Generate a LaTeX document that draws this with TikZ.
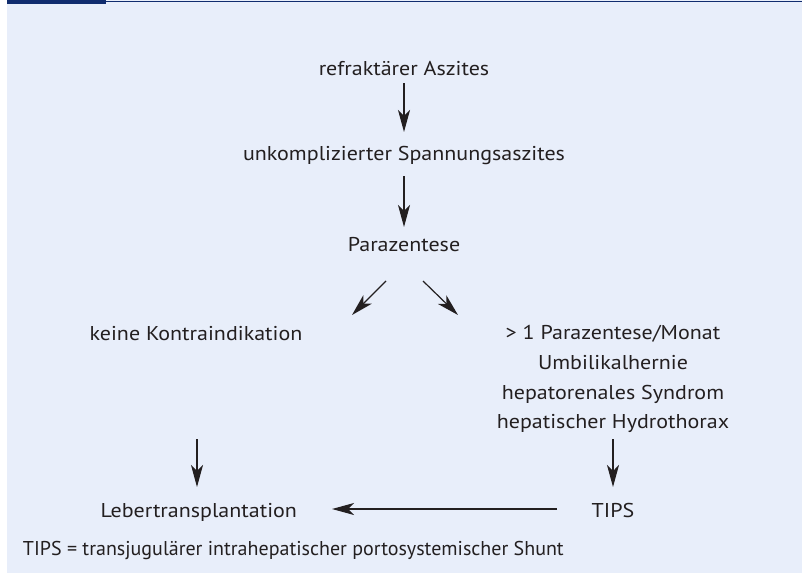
\documentclass[tikz,border=0pt]{standalone}
\usepackage{fontspec}
\setmainfont{PT Sans}
\newfontfamily\widesans[FakeStretch=1.1]{PT Sans}
\usetikzlibrary{arrows.meta,calc}
\definecolor{bgblue}{RGB}{232,238,250}
\definecolor{navy}{RGB}{16,44,110}
\definecolor{txt}{RGB}{35,31,32}
\tikzset{
  lbl/.style={inner sep=0pt, outer sep=0pt, text=txt, font=\widesans\fontsize{20}{24}\selectfont},
  foot/.style={inner sep=0pt, outer sep=0pt, text=txt, font=\fontsize{20}{24}\selectfont},
  arr/.style={draw=txt, line width=1.2pt, -{Stealth[length=22pt,width=12pt,inset=6pt]}}
}
\begin{document}
\begin{tikzpicture}[x=1pt,y=-1pt]
\useasboundingbox (0,0) rectangle (803,573);
\fill[bgblue] (7,0) rectangle (802,573);
\fill[navy] (7,0) rectangle (106,3.7);
\fill[navy] (106,0.7) rectangle (802,2.3);
% nodes
\node[lbl, anchor=base] (t1) at (404,75) {refraktärer Aszites};
\node[lbl, anchor=base] (t2) at (404,160) {unkomplizierter Spannungsaszites};
\node[lbl, anchor=base] (t3) at (404,251) {Parazentese};
\node[lbl, anchor=base] (t4) at (196,340) {keine Kontraindikation};
\node[lbl, anchor=base] (r1) at (613,339) {> 1 Parazentese/Monat};
\node[lbl, anchor=base] (r2) at (613,369) {Umbilikalhernie};
\node[lbl, anchor=base] (r3) at (613,399) {hepatorenales Syndrom};
\node[lbl, anchor=base] (r4) at (613,428) {hepatischer Hydrothorax};
\node[lbl, anchor=base east] (leb) at (297,517) {Lebertransplantation};
\node[lbl, anchor=base] (tips) at (613,517) {TIPS};
\node[foot, anchor=base west] (fn) at (23,555) {TIPS = transjugulärer intrahepatischer portosystemischer Shunt};
% connectors
\draw[arr] ($(t1.base)+(0,8)$) -- ($(t2.base)+(0,-28)$);
\draw[arr] ($(t2.base)+(0,16)$) -- ($(t3.base)+(0,-24)$);
\draw[arr] ($(t3.base)+(-18,30)$) -- ($(t4.base)+(156,-25)$);
\draw[arr] ($(t3.base)+(19,30)$) -- ($(r1.base)+(-155,-24)$);
\draw[arr] ($(t4.base)+(1,99)$) -- ($(t4.base)+(1,147)$);
\draw[arr] ($(r4.base)+(0,11)$) -- ($(tips.base)+(0,-30)$);
\draw[arr] ($(tips.base)+(-56,-8)$) -- ($(leb.base east)+(35,-8)$);
\end{tikzpicture}
\end{document}
